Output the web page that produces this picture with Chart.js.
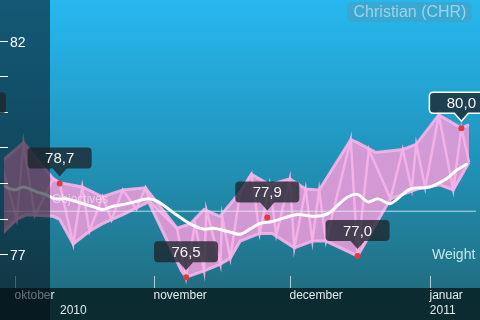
<!DOCTYPE html>
<html>
<head>
<meta charset="utf-8">
<style>
  html, body { margin: 0; padding: 0; background: #0b2b31; }
  canvas { display: block; }
</style>
</head>
<body>
<canvas id="chart" width="480" height="320"></canvas>
<script src="https://cdn.jsdelivr.net/npm/chart.js@4.4.0/dist/chart.umd.min.js"></script>
<script>
// days counted from 1 October 2010
const monthDays = [0, 31, 61, 92];
const monthLabels = ['oktober', 'november', 'december', 'januar'];
const yearDays = [0, 92];
const yearLabels = ['2010', '2011'];

const yTickValues = [82, 81.17, 80.33, 79.5, 78.67, 77.83, 77];
const yTickLabels = ['82', '', '', '', '', '', '77'];

// range band (upper / lower envelope)
const upperDays = [-3, 2, 8.6, 10, 15, 19.5, 24, 29, 36, 39, 42, 45.5, 50, 52.5, 56.5, 61, 64.5, 67.5, 74.5, 76, 80, 86, 89, 94, 99, 100.7];
const upperVals = [79.2, 79.66, 78.81, 78.72, 78.62, 78.39, 78.55, 78.6, 77.65, 77.76, 78.09, 77.93, 78.5, 78.92, 78.67, 78.81, 78.57, 78.55, 79.73, 79.66, 79.43, 79.5, 79.62, 80.31, 80.0, 80.08];
const lowerDays = [-3, 0.5, 2.7, 8.6, 10, 13, 16.6, 19.5, 24, 29.7, 37, 38, 42, 45.6, 47.8, 50, 54.3, 57.1, 62, 66, 69, 76, 83.3, 89.2, 94.2, 97.2, 100.7];
const lowerVals = [77.5, 77.86, 77.97, 77.93, 77.86, 77.28, 77.58, 77.76, 77.97, 78.27, 76.65, 76.5, 76.65, 76.81, 76.95, 77.35, 77.53, 77.53, 77.19, 77.35, 77.35, 77.0, 78.34, 78.57, 78.67, 78.55, 79.2];

// daily weighings
const dailyDays = [-3, 0.5, 2, 4.5, 8.6, 10, 13, 15, 16.6, 19.5, 21.5, 24, 27, 29, 30, 36, 38, 40, 42, 42.5, 45.6, 46, 47.8, 50, 52.5, 54.3, 56.5, 58, 61, 62, 64.5, 66, 67.5, 69, 74.5, 76, 78.5, 83.3, 86, 88, 89, 91, 94, 97.2, 99, 100.7];
const dailyVals = [79.2, 77.86, 79.66, 77.95, 78.81, 78.7, 77.28, 78.62, 77.58, 78.39, 77.85, 78.55, 78.1, 78.6, 78.27, 77.65, 76.5, 77.76, 76.65, 78.09, 76.81, 77.93, 76.95, 78.5, 78.92, 77.53, 78.67, 77.5, 78.81, 77.19, 78.57, 77.35, 78.55, 77.35, 79.73, 77.0, 79.5, 78.34, 79.5, 78.57, 79.62, 78.6, 80.31, 78.55, 80.0, 79.2];

// smoothed weight
const avgDays = [-3, 0, 2, 5, 7, 9, 11.5, 15, 17.3, 19.5, 21.6, 23.8, 26.6, 29.7, 31.9, 35.4, 39.1, 41.9, 44.1, 47.1, 50, 52.1, 54.3, 57.1, 62.4, 66.7, 69.6, 71.7, 73.9, 76.1, 78.3, 80.5, 83.3, 87.6, 92, 95.7, 97.9, 100.1];
const avgVals = [78.67, 78.55, 78.62, 78.5, 78.44, 78.34, 78.34, 78.23, 78.16, 78.09, 78.16, 78.2, 78.27, 78.34, 78.27, 78.0, 77.74, 77.63, 77.65, 77.58, 77.51, 77.63, 77.76, 77.81, 77.97, 77.93, 78.0, 78.2, 78.39, 78.44, 78.27, 78.34, 78.23, 78.57, 78.62, 78.81, 79.01, 79.15];

const objectiveValue = [78.05];

// flagged values with labels
const markerDays = [-9, 10, 38, 56, 76, 99];
const markerVals = [80.0, 78.7, 76.5, 77.9, 77.0, 80.0];
const selectedMarker = 5;

const X_MIN = -2.33, X_MAX = 102.24;
const Y_MIN = 76.248, Y_MAX = 82.914;

const FONT = "'Liberation Sans', Arial, sans-serif";
const pinkLine = 'rgba(246,180,234,0.9)';

const pts = (xs, ys) => xs.map((x, i) => ({ x: x, y: ys[i] }));

function roundRect(ctx, x, y, w, h, r) {
  ctx.beginPath();
  ctx.moveTo(x + r, y);
  ctx.lineTo(x + w - r, y);
  ctx.quadraticCurveTo(x + w, y, x + w, y + r);
  ctx.lineTo(x + w, y + h - r);
  ctx.quadraticCurveTo(x + w, y + h, x + w - r, y + h);
  ctx.lineTo(x + r, y + h);
  ctx.quadraticCurveTo(x, y + h, x, y + h - r);
  ctx.lineTo(x, y + r);
  ctx.quadraticCurveTo(x, y, x + r, y);
  ctx.closePath();
}

function drawTag(ctx, x, y, text, selected) {
  const w = 64, h = 21, r = 4;
  const bx = x - w / 2, by = y - 36;
  ctx.beginPath();
  ctx.moveTo(bx + r, by);
  ctx.lineTo(bx + w - r, by);
  ctx.quadraticCurveTo(bx + w, by, bx + w, by + r);
  ctx.lineTo(bx + w, by + h - r);
  ctx.quadraticCurveTo(bx + w, by + h, bx + w - r, by + h);
  ctx.lineTo(x + 7, by + h);
  ctx.lineTo(x, y - 7);
  ctx.lineTo(x - 7, by + h);
  ctx.lineTo(bx + r, by + h);
  ctx.quadraticCurveTo(bx, by + h, bx, by + h - r);
  ctx.lineTo(bx, by + r);
  ctx.quadraticCurveTo(bx, by, bx + r, by);
  ctx.closePath();
  ctx.fillStyle = 'rgba(30,36,44,0.78)';
  ctx.fill();
  if (selected) {
    ctx.strokeStyle = '#ffffff';
    ctx.lineWidth = 1.5;
    ctx.stroke();
  }
  ctx.fillStyle = '#f4f4f4';
  ctx.font = '15px ' + FONT;
  ctx.textAlign = 'center';
  ctx.textBaseline = 'middle';
  ctx.fillText(text, x, by + h / 2 + 1);
}

const decor = {
  id: 'decor',
  beforeDraw(chart) {
    const ctx = chart.ctx;
    const g = ctx.createLinearGradient(0, 0, 0, 288);
    g.addColorStop(0, '#27b8ef');
    g.addColorStop(0.5, '#2197c0');
    g.addColorStop(1, '#216f82');
    ctx.save();
    ctx.fillStyle = g;
    ctx.fillRect(0, 0, 480, 288);
    ctx.fillStyle = '#0b2b31';
    ctx.fillRect(0, 288, 480, 32);
    ctx.restore();
  },
  afterDatasetsDraw(chart) {
    const ctx = chart.ctx;
    const xs = chart.scales.x;
    ctx.save();
    ctx.font = '12px ' + FONT;
    ctx.textAlign = 'left';
    ctx.textBaseline = 'middle';
    ctx.fillStyle = 'rgba(245,238,248,0.6)';
    ctx.fillText('Objectives', 52, 200);
    ctx.font = '14px ' + FONT;
    ctx.fillStyle = 'rgba(205,236,246,0.95)';
    ctx.fillText('Weight', 432, 255);

    ctx.strokeStyle = 'rgba(200,232,242,0.8)';
    ctx.lineWidth = 1;
    ctx.font = '12px ' + FONT;
    ctx.fillStyle = 'rgba(236,244,247,0.95)';
    monthDays.forEach((d, i) => {
      const px = Math.round(xs.getPixelForValue(d)) + 0.5;
      ctx.beginPath();
      ctx.moveTo(px, 276);
      ctx.lineTo(px, 288);
      ctx.stroke();
      ctx.fillText(monthLabels[i], px - 1, 296);
    });
    ctx.restore();
  },
  afterDraw(chart) {
    const ctx = chart.ctx;
    const xs = chart.scales.x, ys = chart.scales.y;
    ctx.save();
    // dark strip on the left
    ctx.fillStyle = 'rgba(5,14,24,0.56)';
    ctx.fillRect(0, 0, 50, 320);

    // y ticks
    ctx.strokeStyle = '#ffffff';
    ctx.lineWidth = 1;
    ctx.font = '14px ' + FONT;
    ctx.fillStyle = '#ffffff';
    ctx.textAlign = 'left';
    ctx.textBaseline = 'middle';
    yTickValues.forEach((v, i) => {
      const py = Math.round(ys.getPixelForValue(v)) - 1.5;
      ctx.beginPath();
      ctx.moveTo(0, py);
      ctx.lineTo(8, py);
      ctx.stroke();
      if (yTickLabels[i]) ctx.fillText(yTickLabels[i], 10, py + 2);
    });

    // years
    ctx.font = '12px ' + FONT;
    ctx.fillStyle = 'rgba(236,244,247,0.95)';
    yearDays.forEach((d, i) => {
      const px = Math.max(xs.getPixelForValue(d), 60);
      ctx.fillText(yearLabels[i], px, 311);
    });

    // value tags
    const meta = chart.getDatasetMeta(5);
    meta.data.forEach((p, i) => {
      const txt = markerVals[i].toFixed(1).replace('.', ',');
      drawTag(ctx, p.x, p.y, txt, i === selectedMarker);
    });

    // title
    roundRect(ctx, 347, 2, 125, 20, 6);
    ctx.fillStyle = 'rgba(85,150,180,0.45)';
    ctx.fill();
    ctx.font = '16px ' + FONT;
    ctx.fillStyle = 'rgba(168,214,234,0.92)';
    ctx.textAlign = 'center';
    ctx.fillText('Christian (CHR)', 410, 12.5);
    ctx.restore();
  }
};

new Chart(document.getElementById('chart'), {
  type: 'line',
  data: {
    datasets: [{
      data: pts(upperDays, upperVals),
      borderColor: pinkLine,
      borderWidth: 3,
      borderJoinStyle: 'miter',
      backgroundColor: 'rgba(230,154,216,0.9)',
      fill: '+1',
      order: 6
    }, {
      data: pts(lowerDays, lowerVals),
      borderColor: pinkLine,
      borderWidth: 3,
      borderJoinStyle: 'miter',
      fill: false,
      order: 5
    }, {
      data: pts(dailyDays, dailyVals),
      borderColor: pinkLine,
      borderWidth: 2.5,
      borderJoinStyle: 'miter',
      fill: false,
      order: 4
    }, {
      data: [{ x: X_MIN - 5, y: objectiveValue[0] }, { x: X_MAX + 5, y: objectiveValue[0] }],
      borderColor: 'rgba(225,242,250,0.8)',
      borderWidth: 1,
      fill: false,
      order: 3
    }, {
      data: pts(avgDays, avgVals),
      borderColor: '#ffffff',
      borderWidth: 3,
      tension: 0.3,
      borderCapStyle: 'round',
      borderJoinStyle: 'round',
      fill: false,
      order: 2
    }, {
      data: pts(markerDays, markerVals),
      showLine: false,
      pointRadius: 3,
      pointBackgroundColor: '#e4393c',
      pointBorderWidth: 0,
      order: 1
    }]
  },
  options: {
    responsive: false,
    animation: false,
    devicePixelRatio: 1,
    layout: { padding: { left: 0, right: 0, top: 0, bottom: 32 } },
    plugins: { legend: { display: false }, tooltip: { enabled: false } },
    elements: { point: { radius: 0 } },
    scales: {
      x: { type: 'linear', display: false, min: X_MIN, max: X_MAX },
      y: { display: false, min: Y_MIN, max: Y_MAX }
    }
  },
  plugins: [decor]
});
</script>
</body>
</html>
